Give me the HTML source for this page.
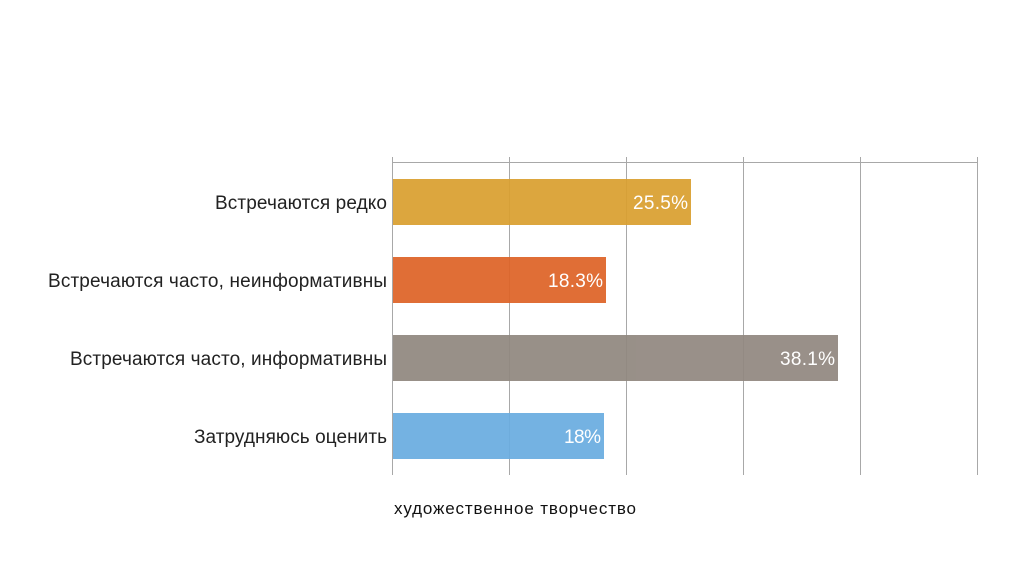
<!DOCTYPE html>
<html><head><meta charset="utf-8"><style>
body{margin:0;background:#fff}
svg{display:block}
text{font-family:"Liberation Sans","DejaVu Sans",sans-serif}
</style></head><body>
<svg width="1024" height="576" xmlns="http://www.w3.org/2000/svg">
<g stroke="#a8a8a8" stroke-width="1">
<line x1="392.5" y1="162.5" x2="977.5" y2="162.5"/>
<line x1="392.5" y1="157" x2="392.5" y2="475"/>
<line x1="509.5" y1="157" x2="509.5" y2="475"/>
<line x1="626.5" y1="157" x2="626.5" y2="475"/>
<line x1="743.5" y1="157" x2="743.5" y2="475"/>
<line x1="860.5" y1="157" x2="860.5" y2="475"/>
<line x1="977.5" y1="157" x2="977.5" y2="475"/>
</g>
<g opacity="0.93">
<rect x="393" y="179" width="298" height="46" fill="#d99f2f"/>
<rect x="393" y="257" width="213" height="46" fill="#de6427"/>
<rect x="393" y="335" width="445" height="46" fill="#918880"/>
<rect x="393" y="413" width="211" height="46" fill="#6aade0"/>
</g>
<g fill="#fff" font-size="19" text-anchor="end">
<text x="688" y="209" textLength="55">25.5%</text>
<text x="603" y="287" textLength="55">18.3%</text>
<text x="835" y="365" textLength="55">38.1%</text>
<text x="601" y="443" textLength="37">18%</text>
</g>
<g fill="#222" font-size="19" text-anchor="end">
<text x="387" y="209" textLength="172">Встречаются редко</text>
<text x="387" y="287" textLength="339">Встречаются часто, неинформативны</text>
<text x="387" y="365" textLength="317">Встречаются часто, информативны</text>
<text x="387" y="443" textLength="193">Затрудняюсь оценить</text>
</g>
<text x="394" y="514" font-size="17" fill="#111" textLength="242">художественное творчество</text>
</svg>
</body></html>
